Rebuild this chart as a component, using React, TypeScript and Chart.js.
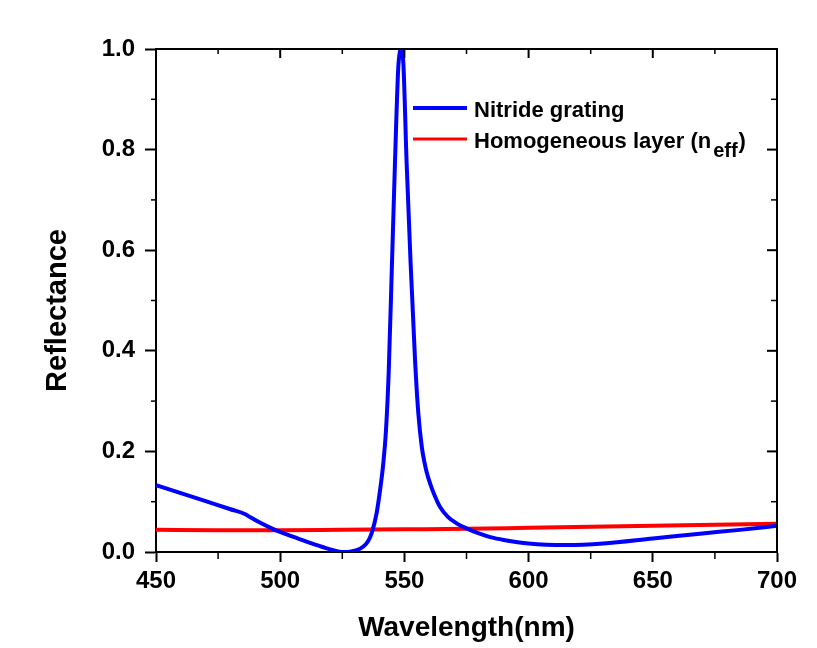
import React, { useEffect, useRef } from "react";
import { Chart, registerables } from "chart.js";

Chart.register(...registerables);

const FONT = "'Liberation Sans', Arial, Helvetica, sans-serif";

// Nitride grating (blue)
const blueWavelength = [
  450, 460, 470, 480, 486, 488, 492, 497, 502, 507, 512, 517, 521, 525.5, 528,
  530.5, 533.5, 535.3, 536.8, 538.8, 540.2, 541.5, 542.6, 543.7, 545.0, 546.2,
  547.5, 548.2, 548.7, 549.1, 549.6, 550.9, 552.5, 554.3, 555.6, 557, 558, 559,
  560.5, 562.3, 564.3, 567.5, 571, 575, 580, 585, 590, 600, 615, 630, 650, 670,
  685, 700,
];
const blueReflectance = [
  0.133, 0.117, 0.101, 0.085, 0.075, 0.069, 0.058, 0.046, 0.036, 0.027, 0.018,
  0.01, 0.004, 0.0, 0.0005, 0.003, 0.011, 0.021, 0.037, 0.077, 0.123, 0.176,
  0.243, 0.36, 0.574, 0.773, 0.96, 0.995, 1.0, 0.995, 0.97, 0.773, 0.574, 0.38,
  0.276, 0.209, 0.18, 0.158, 0.134, 0.111, 0.09, 0.07, 0.057, 0.047, 0.037,
  0.029, 0.024, 0.017, 0.014, 0.017, 0.027, 0.037, 0.044, 0.052,
];

// Homogeneous layer (red)
const redWavelength = [450, 475, 500, 525, 550, 575, 600, 625, 650, 675, 700];
const redReflectance = [
  0.044, 0.043, 0.043, 0.044, 0.045, 0.046, 0.048, 0.05, 0.052, 0.054, 0.056,
];

const xMajorTicks = [450, 500, 550, 600, 650, 700];
const xMinorTicks = [475, 525, 575, 625, 675];
const yMajorTicks = [0, 0.2, 0.4, 0.6, 0.8, 1.0];
const yMinorTicks = [0.1, 0.3, 0.5, 0.7, 0.9];

const seriesNames = ["Nitride grating", "Homogeneous layer (n"];
const seriesColors = ["#0000ff", "#ff0000"];

const overlayPlugin = {
  id: "overlay",
  afterDraw(chart: any) {
    const { ctx, chartArea: a, scales } = chart;
    const xs = scales.x;
    const ys = scales.y;
    const seg = (x1: number, y1: number, x2: number, y2: number) => {
      ctx.beginPath();
      ctx.moveTo(x1, y1);
      ctx.lineTo(x2, y2);
      ctx.stroke();
    };
    ctx.save();
    ctx.strokeStyle = "#000";
    ctx.lineWidth = 2;
    // top & right frame
    ctx.beginPath();
    ctx.moveTo(a.left - 1, a.top);
    ctx.lineTo(a.right, a.top);
    ctx.lineTo(a.right, a.bottom + 1);
    ctx.stroke();

    // major inward ticks top/right
    xMajorTicks.forEach((v) => {
      const px = xs.getPixelForValue(v);
      seg(px, a.top, px, a.top + 9);
    });
    yMajorTicks.forEach((v) => {
      const py = ys.getPixelForValue(v);
      seg(a.right, py, a.right - 10, py);
    });

    ctx.lineWidth = 1.5;
    xMinorTicks.forEach((v) => {
      const px = xs.getPixelForValue(v);
      seg(px, a.bottom, px, a.bottom + 7);
      seg(px, a.top, px, a.top + 5);
    });
    yMinorTicks.forEach((v) => {
      const py = ys.getPixelForValue(v);
      seg(a.left, py, a.left - 5, py);
      seg(a.right, py, a.right - 6, py);
    });

    // y axis title
    ctx.save();
    ctx.translate(58, (a.top + a.bottom) / 2 + 10);
    ctx.rotate(-Math.PI / 2);
    ctx.fillStyle = "#000";
    ctx.font = `bold 29px ${FONT}`;
    ctx.textAlign = "center";
    ctx.textBaseline = "middle";
    ctx.fillText("Reflectance", 0, 0);
    ctx.restore();

    // legend
    const lx1 = 413;
    const lx2 = 467;
    const rows = [108, 139];
    ctx.fillStyle = "#000";
    ctx.font = `bold 22px ${FONT}`;
    ctx.textAlign = "left";
    ctx.textBaseline = "alphabetic";
    rows.forEach((ry, i) => {
      ctx.strokeStyle = seriesColors[i];
      ctx.lineWidth = i === 0 ? 4 : 3;
      seg(lx1, ry, lx2, ry);
      ctx.fillText(seriesNames[i], 474, ry + 9);
    });
    const w = ctx.measureText(seriesNames[1]).width;
    ctx.font = `bold 20px ${FONT}`;
    ctx.fillText("eff", 474 + w + 2, rows[1] + 18);
    const w2 = ctx.measureText("eff").width;
    ctx.font = `bold 22px ${FONT}`;
    ctx.fillText(")", 474 + w + 2 + w2 + 1, rows[1] + 9);
    ctx.restore();
  },
};

export default function App() {
  const ref = useRef<HTMLCanvasElement | null>(null);

  useEffect(() => {
    if (!ref.current) return;
    const chart = new Chart(ref.current, {
      type: "line",
      data: {
        datasets: [
          {
            label: "Nitride grating",
            data: blueWavelength.map((x, i) => ({ x, y: blueReflectance[i] })),
            borderColor: seriesColors[0],
            borderWidth: 4,
            pointRadius: 0,
            cubicInterpolationMode: "monotone",
            fill: false,
            clip: 0,
          },
          {
            label: "Homogeneous layer (neff)",
            data: redWavelength.map((x, i) => ({ x, y: redReflectance[i] })),
            borderColor: seriesColors[1],
            borderWidth: 4,
            pointRadius: 0,
            cubicInterpolationMode: "monotone",
            fill: false,
            clip: 0,
          },
        ],
      },
      options: {
        animation: false,
        responsive: false,
        maintainAspectRatio: false,
        layout: { padding: { left: 0, top: 49, right: 40, bottom: 0 } },
        plugins: {
          legend: { display: false },
          tooltip: { enabled: false },
        },
        scales: {
          x: {
            type: "linear",
            min: 450,
            max: 700,
            afterFit: (s: any) => {
              s.height = 96;
            },
            ticks: {
              stepSize: 50,
              color: "#000",
              padding: 5,
              font: { family: FONT, size: 24, weight: "bold" },
            },
            grid: {
              drawOnChartArea: false,
              drawTicks: true,
              tickLength: 10,
              tickWidth: 2,
              tickColor: "#000",
            },
            border: { display: true, color: "#000", width: 2 },
            title: {
              display: true,
              text: "Wavelength(nm)",
              color: "#000",
              font: { family: FONT, size: 28, weight: "bold" },
              padding: { top: 0, bottom: 3 },
            },
          },
          y: {
            type: "linear",
            min: 0,
            max: 1,
            afterFit: (s: any) => {
              s.width = 156;
            },
            ticks: {
              stepSize: 0.2,
              color: "#000",
              padding: 10,
              font: { family: FONT, size: 24, weight: "bold" },
              callback: (v: any) => Number(v).toFixed(1),
            },
            grid: {
              drawOnChartArea: false,
              drawTicks: true,
              tickLength: 11,
              tickWidth: 2,
              tickColor: "#000",
            },
            border: { display: true, color: "#000", width: 2 },
          },
        },
      },
      plugins: [overlayPlugin],
    } as any);
    return () => chart.destroy();
  }, []);

  return (
    <div
      style={{
        position: "absolute",
        left: 0,
        top: 0,
        width: 817,
        height: 648,
        background: "#fff",
      }}
    >
      <canvas ref={ref} width={817} height={648} style={{ width: 817, height: 648 }} />
    </div>
  );
}
